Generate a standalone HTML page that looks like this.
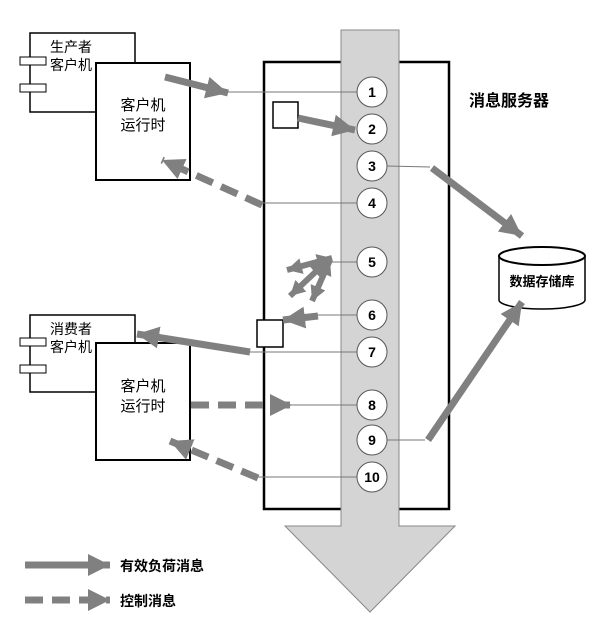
<!DOCTYPE html>
<html><head><meta charset="utf-8"><style>
html,body{margin:0;padding:0;background:#fff;}
svg{display:block;}
text{font-family:"Liberation Sans","Noto Sans CJK SC",sans-serif;}
</style></head><body>
<svg width="610" height="632" viewBox="0 0 610 632" xmlns="http://www.w3.org/2000/svg">
<defs>
<marker id="ah" markerUnits="userSpaceOnUse" markerWidth="24" markerHeight="24" refX="22" refY="11" orient="auto">
<path d="M0,0 L22,11 L0,22 Z" fill="#808080"/>
</marker>
<marker id="sh" markerUnits="userSpaceOnUse" markerWidth="18" markerHeight="18" refX="15" refY="8" orient="auto-start-reverse">
<path d="M0,0 L15,8 L0,16 Z" fill="#808080"/>
</marker>
</defs>
<rect x="264" y="62" width="185" height="447" fill="#fff" stroke="#000" stroke-width="2.5"/>
<path d="M341,30 L399,30 L399,526 L455,526 L370,612 L285,526 L341,526 Z" fill="#d4d4d4" stroke="#888" stroke-width="1"/>
<text x="469" y="106" font-size="16" font-weight="bold">消息服务器</text>

<rect x="30" y="33" width="105" height="79" fill="#fff" stroke="#000" stroke-width="1.5"/>
<rect x="20" y="57" width="26" height="8" fill="#fff" stroke="#000" stroke-width="1"/>
<rect x="20" y="84" width="26" height="8" fill="#fff" stroke="#000" stroke-width="1"/>
<text x="50" y="52" font-size="14">生产者</text>
<text x="50" y="70" font-size="14">客户机</text>
<rect x="96" y="63" width="94" height="117" fill="#fff" stroke="#000" stroke-width="2"/>
<text x="143" y="110" font-size="15" text-anchor="middle">客户机</text>
<text x="143" y="130" font-size="15" text-anchor="middle">运行时</text>

<rect x="30" y="315" width="105" height="77" fill="#fff" stroke="#000" stroke-width="1.5"/>
<rect x="20" y="338" width="26" height="8" fill="#fff" stroke="#000" stroke-width="1"/>
<rect x="20" y="365" width="26" height="8" fill="#fff" stroke="#000" stroke-width="1"/>
<text x="50" y="334" font-size="14">消费者</text>
<text x="50" y="352" font-size="14">客户机</text>
<rect x="96" y="343" width="94" height="117" fill="#fff" stroke="#000" stroke-width="2"/>
<text x="143" y="391" font-size="15" text-anchor="middle">客户机</text>
<text x="143" y="411" font-size="15" text-anchor="middle">运行时</text>

<path d="M499,256 L499,300 A43,9 0 0 0 585,300 L585,256" fill="#fff" stroke="#000" stroke-width="1.5"/>
<ellipse cx="542" cy="256" rx="43" ry="9" fill="#fff" stroke="#000" stroke-width="2"/>
<text x="542" y="286" font-size="13" text-anchor="middle" font-weight="bold">数据存储库</text>

<g stroke="#777" stroke-width="1" fill="none">
<line x1="228" y1="92" x2="357" y2="92"/>
<line x1="262" y1="203" x2="357" y2="203"/>
<line x1="332" y1="262" x2="357" y2="262"/>
<line x1="300" y1="315" x2="357" y2="315"/>
<line x1="250" y1="352" x2="357" y2="352"/>
<line x1="290" y1="405" x2="357" y2="405"/>
<line x1="252" y1="477" x2="357" y2="477"/>
<polyline points="387,166 430,167"/>
<polyline points="387,440 425,440"/>
</g>
<rect x="273" y="102" width="25" height="26" fill="#fff" stroke="#000" stroke-width="1.5"/>
<rect x="257" y="320" width="26" height="27" fill="#fff" stroke="#000" stroke-width="1.5"/>

<g stroke="#808080" stroke-width="7" fill="none" marker-end="url(#ah)">
<line x1="165" y1="77" x2="228" y2="93"/>
<line x1="298" y1="118" x2="355" y2="130"/>
<line x1="432" y1="168" x2="522" y2="236"/>
<line x1="318" y1="316" x2="283" y2="320"/>
<line x1="250" y1="352" x2="137" y2="334"/>
<line x1="428" y1="440" x2="522" y2="302"/>
<line x1="25" y1="565" x2="110" y2="565"/>
</g>
<g stroke="#808080" stroke-width="6" fill="none" marker-start="url(#sh)" marker-end="url(#sh)">
<line x1="287" y1="270" x2="332" y2="258"/>
<line x1="290" y1="296" x2="326" y2="262"/>
<line x1="312" y1="301" x2="330" y2="260"/>
</g>
<g stroke="#808080" stroke-width="7" fill="none" stroke-dasharray="18,9" marker-end="url(#ah)">
<line x1="262" y1="205" x2="162" y2="160"/>
<line x1="191" y1="405" x2="292" y2="405"/>
<line x1="258" y1="478" x2="170" y2="441"/>
<line x1="25" y1="600" x2="110" y2="600"/>
</g>

<g fill="#fff" stroke="#555" stroke-width="1">
<circle cx="372" cy="92" r="15"/><circle cx="372" cy="129" r="15"/>
<circle cx="372" cy="166" r="15"/><circle cx="372" cy="203" r="15"/>
<circle cx="372" cy="262" r="15"/><circle cx="372" cy="315" r="15"/>
<circle cx="372" cy="352" r="15"/><circle cx="372" cy="405" r="15"/>
<circle cx="372" cy="440" r="15"/><circle cx="372" cy="477" r="15"/>
</g>
<g font-size="14" font-weight="bold" text-anchor="middle">
<text x="372" y="97">1</text><text x="372" y="134">2</text>
<text x="372" y="171">3</text><text x="372" y="208">4</text>
<text x="372" y="267">5</text><text x="372" y="320">6</text>
<text x="372" y="357">7</text><text x="372" y="410">8</text>
<text x="372" y="445">9</text><text x="372" y="482">10</text>
</g>

<text x="120" y="571" font-size="14" font-weight="bold">有效负荷消息</text>
<text x="120" y="606" font-size="14" font-weight="bold">控制消息</text>
</svg>
</body></html>
